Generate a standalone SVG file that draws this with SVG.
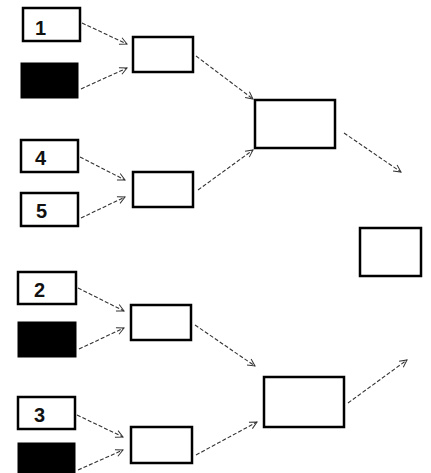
<svg xmlns="http://www.w3.org/2000/svg" width="431" height="473" viewBox="0 0 431 473">
  <style>
    .box { fill: #ffffff; stroke: #000000; stroke-width: 2.5; }
    .blk { fill: #000000; stroke: #000000; stroke-width: 1; }
    .lbl { font-family: "Liberation Sans", Arial, sans-serif; font-weight: bold; font-size: 20px; fill: #111111; }
    .edge { fill: none; stroke: #333333; stroke-width: 1.1; stroke-dasharray: 4 2; marker-end: url(#head); }
  </style>
  <defs>
    <marker id="head" viewBox="0 0 10 10" refX="9" refY="5" markerWidth="9" markerHeight="9" markerUnits="userSpaceOnUse" orient="auto">
      <path d="M1,1 L9,5 L1,9" fill="none" stroke="#333333" stroke-width="1.1"/>
    </marker>
  </defs>
  <rect width="431" height="473" fill="#ffffff"/>

  <!-- leaf entries -->
  <g id="n1"><rect class="box" x="23" y="8" width="57" height="33"/><text class="lbl" x="35" y="35">1</text></g>
  <g id="b1"><rect class="blk" x="21" y="63" width="57" height="35"/></g>
  <g id="n4"><rect class="box" x="21" y="140" width="57" height="32"/><text class="lbl" x="35" y="165">4</text></g>
  <g id="n5"><rect class="box" x="21" y="193" width="57" height="33"/><text class="lbl" x="36" y="218">5</text></g>
  <g id="n2"><rect class="box" x="18" y="272" width="58" height="32"/><text class="lbl" x="34" y="297">2</text></g>
  <g id="b2"><rect class="blk" x="18" y="322" width="58" height="35"/></g>
  <g id="n3"><rect class="box" x="18" y="397" width="57" height="32"/><text class="lbl" x="34" y="422">3</text></g>
  <g id="b3"><rect class="blk" x="18" y="443" width="57" height="32"/></g>

  <!-- second round -->
  <g id="m1"><rect class="box" x="133" y="37" width="60" height="35"/></g>
  <g id="m2"><rect class="box" x="133" y="172" width="60" height="35"/></g>
  <g id="m3"><rect class="box" x="131" y="305" width="60" height="35"/></g>
  <g id="m4"><rect class="box" x="131" y="427" width="61" height="36"/></g>

  <!-- third round -->
  <g id="s1"><rect class="box" x="255" y="100" width="80" height="48"/></g>
  <g id="s2"><rect class="box" x="264" y="377" width="80" height="50"/></g>

  <!-- final -->
  <g id="f"><rect class="box" x="360" y="228" width="61" height="48"/></g>

  <g id="connectors">
    <path class="edge" d="M82,23 L127,44"/>
    <path class="edge" d="M81,89 L127,68"/>
    <path class="edge" d="M80,157 L125,180"/>
    <path class="edge" d="M81,218 L125,197"/>
    <path class="edge" d="M78,288 L124,311"/>
    <path class="edge" d="M79,349 L124,328"/>
    <path class="edge" d="M77,415 L123,437"/>
    <path class="edge" d="M78,470 L123,450"/>
    <path class="edge" d="M196,56 L253,99"/>
    <path class="edge" d="M198,190 L253,150"/>
    <path class="edge" d="M195,325 L255,366"/>
    <path class="edge" d="M196,455 L257,422"/>
    <path class="edge" d="M344,133 L401,172"/>
    <path class="edge" d="M348,403 L407,360"/>
  </g>
</svg>
